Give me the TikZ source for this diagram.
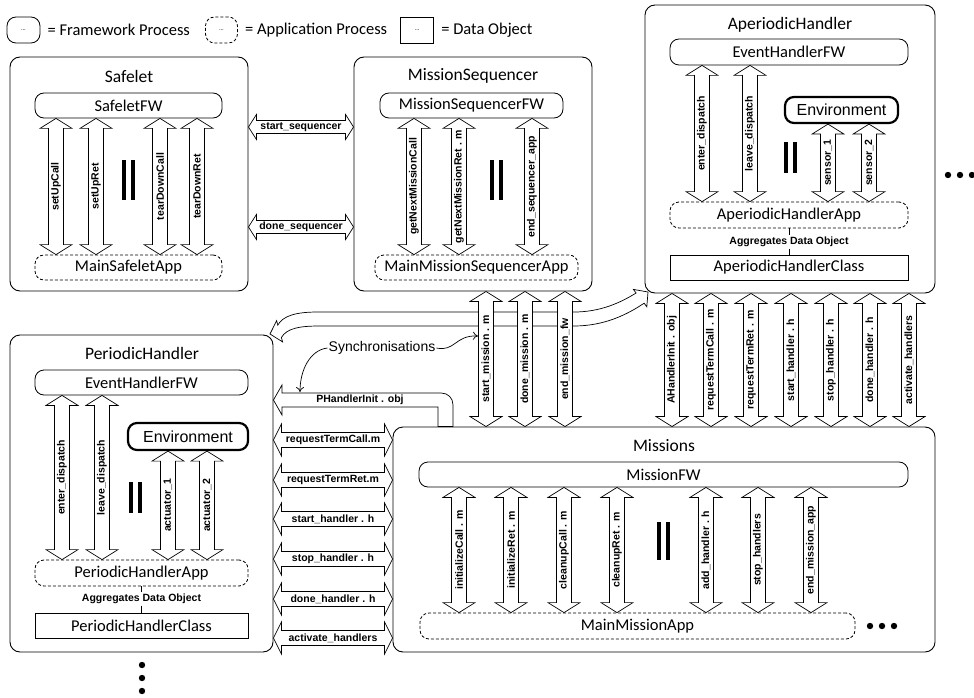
\documentclass[tikz,border=0pt]{standalone}
\usepackage{fontspec}
\setmainfont{Carlito}
\newfontfamily\lblfont{Liberation Sans}
\usetikzlibrary{calc}
\usetikzlibrary{positioning}
\usetikzlibrary{arrows.meta}

\def\pipeHL{10}\def\pipeHW{16}\def\pipeSW{7.5}

\tikzset{
  proc/.style={draw, line width=0.9pt, rounded corners=10pt, inner sep=0pt},
  title/.style={font=\fontsize{17.5}{20}\selectfont, inner sep=0pt},
  fw/.style={draw, line width=0.8pt, rounded corners=9pt, inner sep=0pt, minimum height=25pt, font=\fontsize{16.5}{18}\selectfont},
  app/.style={fw, dash pattern=on 3pt off 2pt},
  data/.style={fw, rounded corners=0pt},
  env/.style={fw, line width=2.2pt, font=\lblfont\fontsize{16}{18}\selectfont},
  agg/.style={font=\lblfont\bfseries\fontsize{10.5}{12}\selectfont, inner sep=1.5pt},
  lbl/.style={font=\lblfont\bfseries\fontsize{10.5}{12}\selectfont, inner sep=0pt},
  legend/.style={font=\fontsize{16.5}{19}\selectfont, inner sep=0pt},
  bar/.style={line width=3.5pt},
  head len/.code={\def\pipeHL{#1}},
  head wid/.code={\def\pipeHW{#1}},
  shaft wid/.code={\def\pipeSW{#1}},
  pipe/.style={draw, line width=0.7pt, fill=white,
    to path={let \p1=(\tikztostart), \p2=(\tikztotarget),
      \n1={veclen(\x2-\x1,\y2-\y1)}, \n2={(\x2-\x1)/\n1}, \n3={(\y2-\y1)/\n1},
      \n4={ifthenelse(abs(\y2-\y1)>abs(\x2-\x1),90,0)} in
      (\p1) -- ({\x1+\pipeHL*\n2-\pipeHW*\n3},{\y1+\pipeHL*\n3+\pipeHW*\n2})
      -- ({\x1+\pipeHL*\n2-\pipeSW*\n3},{\y1+\pipeHL*\n3+\pipeSW*\n2})
      -- ({\x2-\pipeHL*\n2-\pipeSW*\n3},{\y2-\pipeHL*\n3+\pipeSW*\n2})
      -- ({\x2-\pipeHL*\n2-\pipeHW*\n3},{\y2-\pipeHL*\n3+\pipeHW*\n2})
      -- (\p2)
      -- ({\x2-\pipeHL*\n2+\pipeHW*\n3},{\y2-\pipeHL*\n3-\pipeHW*\n2})
      -- ({\x2-\pipeHL*\n2+\pipeSW*\n3},{\y2-\pipeHL*\n3-\pipeSW*\n2})
      -- ({\x1+\pipeHL*\n2+\pipeSW*\n3},{\y1+\pipeHL*\n3-\pipeSW*\n2})
      -- ({\x1+\pipeHL*\n2+\pipeHW*\n3},{\y1+\pipeHL*\n3-\pipeHW*\n2})
      -- cycle
      node[lbl, rotate=\n4] at ({(\x1+\x2)/2},{(\y1+\y2)/2}) {#1}}},
}

\begin{document}
\begin{tikzpicture}[x=1pt,y=-1pt,line cap=butt,line join=miter]
\useasboundingbox (0,0) rectangle (974,698);

% legend
\node[fw, minimum width=33pt, minimum height=26pt] (lgfw) at (23.5,30) {\fontsize{6}{7}\selectfont\ldots};
\node[legend, right=7pt of lgfw] (lgfwt) {= Framework Process};
\node[app, minimum width=32pt, minimum height=26pt, right=15pt of lgfwt] (lgapp) {\fontsize{6}{7}\selectfont\ldots};
\node[legend, right=7pt of lgapp] (lgappt) {= Application Process};
\node[data, minimum width=33pt, minimum height=26pt, right=13pt of lgappt] (lgdata) {\fontsize{6}{7}\selectfont\ldots};
\node[legend, right=7pt of lgdata] (lgdatat) {= Data Object};

% outer processes
\node[proc, minimum width=238pt, minimum height=234pt] (safelet) at (129,174) {};
\node[proc, minimum width=238pt, minimum height=234pt] (ms) at (473,174) {};
\node[proc, minimum width=290pt, minimum height=288pt] (ah) at (790,149) {};
\node[proc, minimum width=263pt, minimum height=317pt] (ph) at (141.5,493.5) {};
\node[proc, minimum width=542pt, minimum height=225pt] (mis) at (664,539.5) {};

% Safelet
\node[title] (safeletT) at (129,76) {Safelet};
\node[fw, minimum width=187pt] (sfw) at (128.5,105.5) {SafeletFW};
\node[app, minimum width=187pt] (sapp) at (128.5,267.5) {MainSafeletApp};
\draw[pipe=setUpCall] (56,0 |- sapp.north) to (56,0 |- sfw.south);
\draw[pipe=setUpRet] (96,0 |- sapp.north) to (96,0 |- sfw.south);
\draw[pipe=tearDownCall] (160,0 |- sapp.north) to (160,0 |- sfw.south);
\draw[pipe=tearDownRet] (197,0 |- sapp.north) to (197,0 |- sfw.south);
\draw[bar] (124,160) -- (124,200);
\draw[bar] (133,160) -- (133,200);

% MissionSequencer
\node[title] (msT) at (473,76) {MissionSequencer};
\node[fw, minimum width=183pt] (msfw) at (471.5,105.5) {MissionSequencerFW};
\node[app, minimum width=203pt] (msapp) at (476.5,267.5) {MainMissionSequencerApp};
\draw[pipe=getNextMissionCall] (414,0 |- msapp.north) to (414,0 |- msfw.south);
\draw[pipe=getNextMissionRet . m] (459,0 |- msapp.north) to (459,0 |- msfw.south);
\draw[pipe=end\_sequencer\_app] (532,0 |- msapp.north) to (532,0 |- msfw.south);
\draw[bar] (492,160) -- (492,200);
\draw[bar] (501,160) -- (501,200);

\draw[pipe=start\_sequencer, head len=8, head wid=12.5, shaft wid=6.5] (safelet.east |- 0,127) to (ms.west |- 0,127);
\draw[pipe=done\_sequencer, head len=8, head wid=12.5, shaft wid=6.5] (safelet.east |- 0,227) to (ms.west |- 0,227);

% AperiodicHandler
\node[title] (ahT) at (790,25) {AperiodicHandler};
\node[fw, minimum width=238pt, minimum height=26pt] (ahfw) at (789,52) {EventHandlerFW};
\node[env, minimum width=113pt, minimum height=26pt] (aenv) at (841.5,110) {Environment};
\node[app, minimum width=238pt, minimum height=26pt] (ahapp) at (789,215) {AperiodicHandlerApp};
\node[data, minimum width=238pt] (ahcls) at (789,267.5) {AperiodicHandlerClass};
\node[agg] (ahagg) at (789,242) {Aggregates Data Object};
\draw[line width=0.6pt] (ahapp) -- (ahagg) -- (ahcls);
\draw[pipe=enter\_dispatch] (702,0 |- ahapp.north) to (702,0 |- ahfw.south);
\draw[pipe=leave\_dispatch] (750,0 |- ahapp.north) to (750,0 |- ahfw.south);
\draw[pipe=sensor\_1] (828,0 |- ahapp.north) to (828,0 |- aenv.south);
\draw[pipe=sensor\_2] (869,0 |- ahapp.north) to (869,0 |- aenv.south);
\draw[bar] (786,142) -- (786,173);
\draw[bar] (795,142) -- (795,173);
\fill (948,175) circle (3.2pt);
\fill (960,175) circle (3.2pt);
\fill (972,175) circle (3.2pt);

% PeriodicHandler
\node[title] (phT) at (142,353) {PeriodicHandler};
\node[fw, minimum width=213pt] (phfw) at (141.5,382.5) {EventHandlerFW};
\node[env, minimum width=120pt, minimum height=27pt] (penv) at (188,436.5) {Environment};
\node[app, minimum width=213pt, minimum height=26pt] (phapp) at (141.5,573) {PeriodicHandlerApp};
\node[data, minimum width=213pt] (phcls) at (141.5,625.5) {PeriodicHandlerClass};
\node[agg] (phagg) at (141.5,599) {Aggregates Data Object};
\draw[line width=0.6pt] (phapp) -- (phagg) -- (phcls);
\draw[pipe=enter\_dispatch] (62,0 |- phapp.north) to (62,0 |- phfw.south);
\draw[pipe=leave\_dispatch] (102,0 |- phapp.north) to (102,0 |- phfw.south);
\draw[pipe=actuator\_1] (168,0 |- phapp.north) to (168,0 |- penv.south);
\draw[pipe=actuator\_2] (207,0 |- phapp.north) to (207,0 |- penv.south);
\draw[bar] (131,482) -- (131,513);
\draw[bar] (140,482) -- (140,513);
\fill (142,665) circle (3.2pt);
\fill (142,678) circle (3.2pt);
\fill (142,691) circle (3.2pt);

% Missions
\node[title] (misT) at (664,446) {Missions};
\node[fw, minimum width=489pt] (mfw) at (663.5,474.5) {MissionFW};
\node[app, minimum width=435pt, minimum height=26pt] (mapp) at (637.5,626) {MainMissionApp};
\draw[pipe=initializeCall . m] (459,0 |- mapp.north) to (459,0 |- mfw.south);
\draw[pipe=initializeRet . m] (511,0 |- mapp.north) to (511,0 |- mfw.south);
\draw[pipe=cleanupCall . m] (564,0 |- mapp.north) to (564,0 |- mfw.south);
\draw[pipe=cleanupRet . m] (617,0 |- mapp.north) to (617,0 |- mfw.south);
\draw[pipe=add\_handler . h] (706,0 |- mapp.north) to (706,0 |- mfw.south);
\draw[pipe=stop\_handlers] (758,0 |- mapp.north) to (758,0 |- mfw.south);
\draw[pipe=end\_mission\_app] (811,0 |- mapp.north) to (811,0 |- mfw.south);
\draw[bar] (659,522) -- (659,560);
\draw[bar] (668,522) -- (668,560);
\fill (870,626) circle (3.2pt);
\fill (882,626) circle (3.2pt);
\fill (894,626) circle (3.2pt);

% synchronisation channel between the handlers
\draw[line width=0.7pt, fill=white] (270,334) -- (276.6,320.7) -- (277.8,325.1)
  .. controls (283,316) and (295,312) .. (318,312) -- (574,312)
  .. controls (600,312) and (620,303) .. (636.1,293) -- (633.4,289.4) -- (648,292)
  -- (646.8,306.8) -- (644.1,303.2) .. controls (628,314) and (605,326) .. (574,326)
  -- (320,326) .. controls (300,326) and (287,328) .. (281.4,337.5) -- (282.6,341.9) -- cycle;

% channels to Missions
\draw[pipe=start\_mission . m] (486,0 |- mis.north) to (486,0 |- ms.south);
\draw[pipe=done\_mission . m] (525,0 |- mis.north) to (525,0 |- ms.south);
\draw[pipe=end\_mission\_fw] (565,0 |- mis.north) to (565,0 |- ms.south);
\draw[pipe=AHandlerInit . obj] (672,0 |- mis.north) to (672,0 |- ah.south);
\draw[pipe=requestTermCall . m] (711,0 |- mis.north) to (711,0 |- ah.south);
\draw[pipe=requestTermRet . m] (751,0 |- mis.north) to (751,0 |- ah.south);
\draw[pipe=start\_handler . h] (791,0 |- mis.north) to (791,0 |- ah.south);
\draw[pipe=stop\_handler . h] (831,0 |- mis.north) to (831,0 |- ah.south);
\draw[pipe=done\_handler . h] (870,0 |- mis.north) to (870,0 |- ah.south);
\draw[pipe=activate\_handlers] (909,0 |- mis.north) to (909,0 |- ah.south);

\draw[line width=0.7pt, fill=white] (ph.east |- 0,400) -- (282,385) -- (282,393) -- (441,393)
  .. controls (448,393) and (453,398) .. (453,405) -- (453,0 |- mis.north)
  -- (438,0 |- mis.north) -- (438,407) -- (282,407) -- (282,415) -- cycle;
\node[lbl] (phinit) at (360,400) {PHandlerInit . obj};

\draw[pipe=requestTermCall.m, head len=8] (ph.east |- 0,440) to (mis.west |- 0,440);
\draw[pipe=requestTermRet.m, head len=8] (ph.east |- 0,480) to (mis.west |- 0,480);
\draw[pipe=start\_handler . h, head len=8] (ph.east |- 0,519) to (mis.west |- 0,519);
\draw[pipe=stop\_handler . h, head len=8] (ph.east |- 0,559) to (mis.west |- 0,559);
\draw[pipe=done\_handler . h, head len=8] (ph.east |- 0,599) to (mis.west |- 0,599);
\draw[pipe=activate\_handlers, head len=8] (ph.east |- 0,638) to (mis.west |- 0,638);

\node[font=\lblfont\fontsize{14}{16}\selectfont, inner sep=1pt] (sync) at (382,348) {Synchronisations};
\draw[line width=0.7pt, -{To[length=5pt,width=8pt]}] (sync.east) .. controls (455,352) and (455,335) .. (478,336);
\draw[line width=0.7pt, -{To[length=5pt,width=8pt]}] (sync.west) .. controls (310,350) and (300,370) .. (300,392);
\end{tikzpicture}
\end{document}
